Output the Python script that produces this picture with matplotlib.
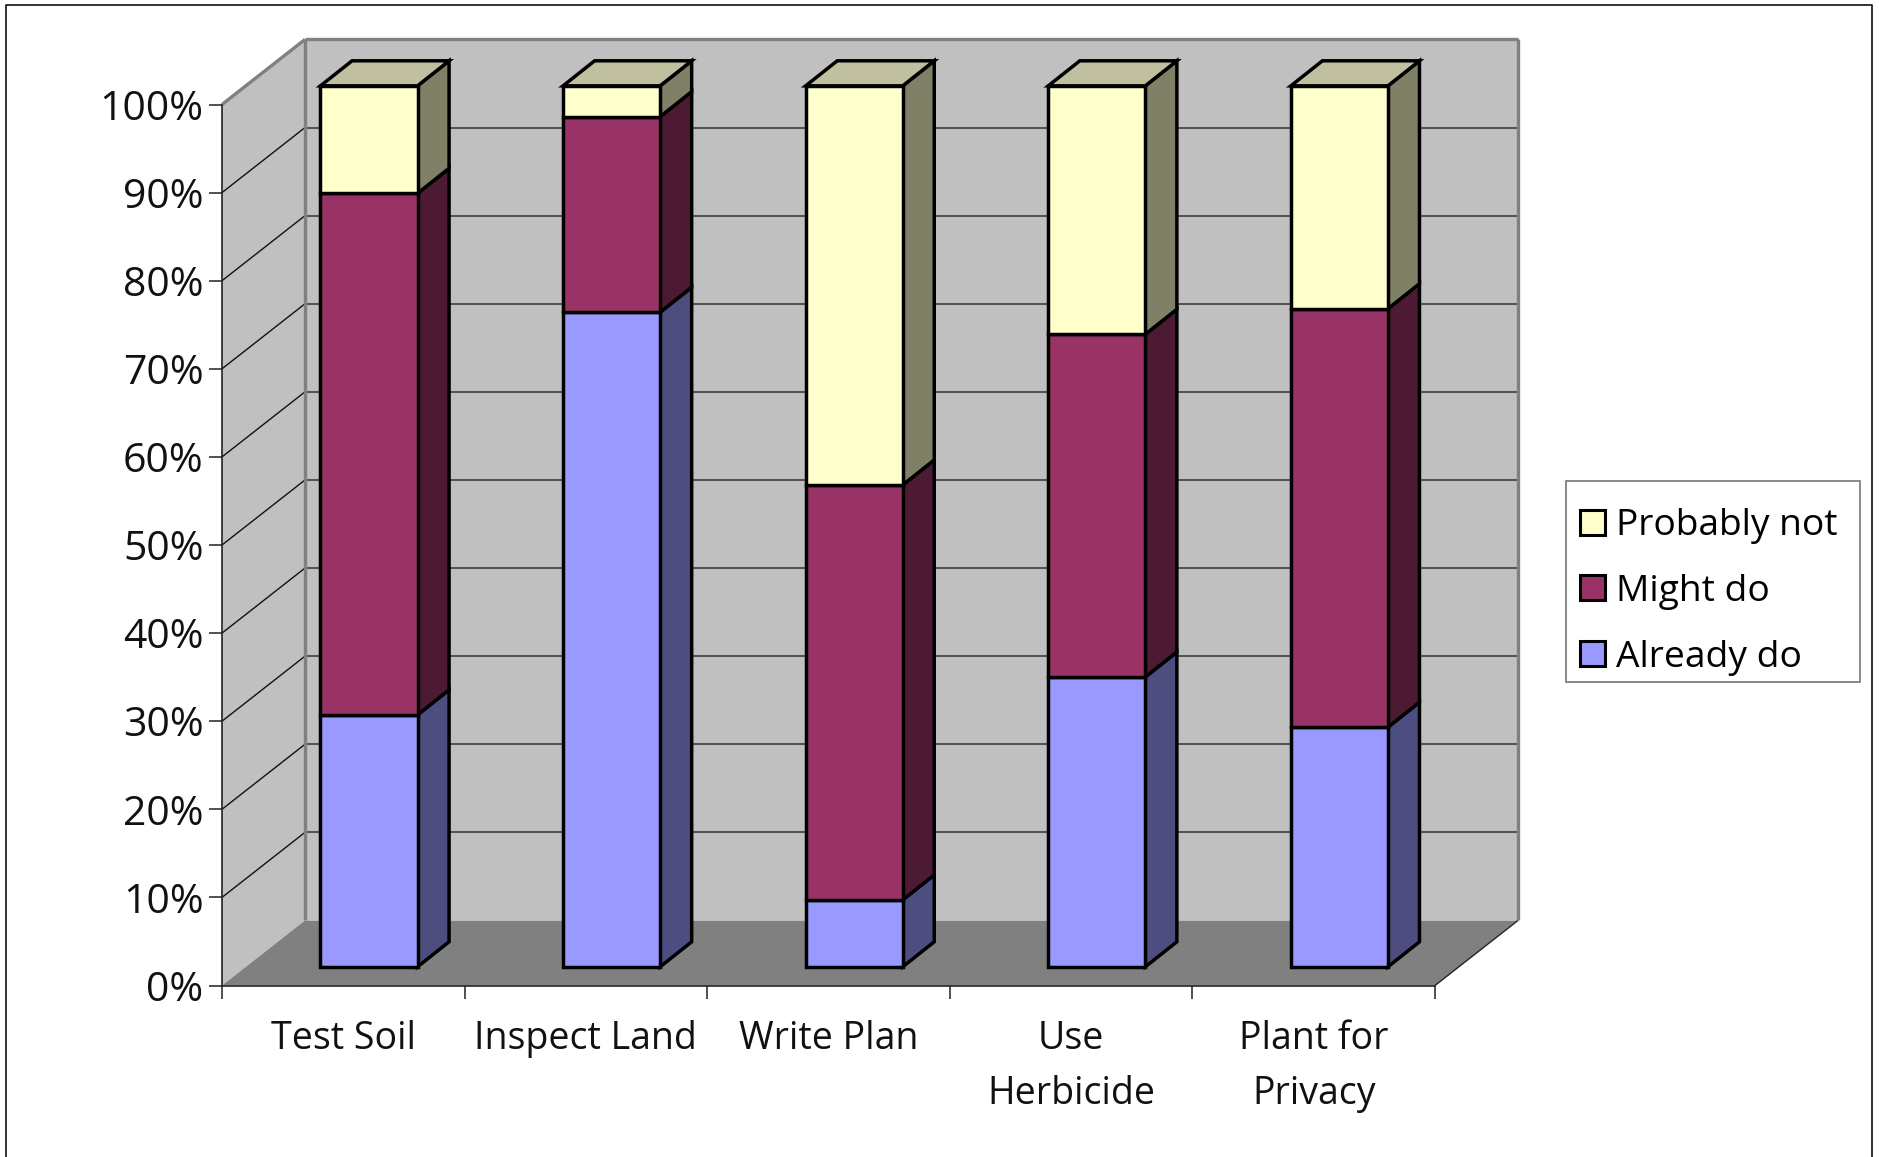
# Stacked 3D-look percent columns, built from polygons on a 2D axes
import matplotlib
matplotlib.use("Agg")
import matplotlib.pyplot as plt
from matplotlib.patches import Polygon, Patch, Rectangle
from matplotlib.lines import Line2D

plt.rcParams['font.family'] = ['Open Sans', 'DejaVu Sans']

categories = ['Test Soil', 'Inspect Land', 'Write Plan', 'Use\nHerbicide', 'Plant for\nPrivacy']
already_do = [28.6, 74.3, 7.6, 32.9, 27.2]
might_do = [59.2, 22.2, 47.1, 38.9, 47.5]
probably_not = [12.2, 3.5, 45.3, 28.2, 25.3]
series_names = ['Already do', 'Might do', 'Probably not']
yticks = list(range(0, 101, 10))

front_colors = ['#9999FF', '#993366', '#FFFFCC']
side_colors = ['#4D4D80', '#4D1A33', '#808066']
top_color = '#C0C0A0'

W, H = 1879, 1157
fig = plt.figure(figsize=(W / 100, H / 100), dpi=100)
ax = fig.add_axes([222 / W, (H - 985.5) / H, 1213 / W, 881 / H])
ax.set_xlim(0, 5)
ax.set_ylim(0, 100)
ax.patch.set_visible(False)

# depth of the box and of the bars, in data units
wall_dx, wall_dy = 0.342, 7.38
bar_dx, bar_dy = 0.13, 2.84
shift_x, shift_y = 0.106, 2.12
bar_width = 0.40


def poly(points, face, edge='none', lw=0, z=1):
    ax.add_patch(Polygon(points, closed=True, facecolor=face, edgecolor=edge,
                         linewidth=lw, zorder=z, clip_on=False, joinstyle='miter'))


def seg(xs, ys, color, lw, z=2):
    ax.add_line(Line2D(xs, ys, color=color, linewidth=lw, zorder=z, clip_on=False,
                       solid_capstyle='butt'))


# back wall, side wall, floor
poly([(wall_dx, wall_dy), (5 + wall_dx, wall_dy), (5 + wall_dx, 100 + wall_dy), (wall_dx, 100 + wall_dy)], '#C0C0C0', z=1)
poly([(0, 0), (wall_dx, wall_dy), (wall_dx, 100 + wall_dy), (0, 100)], '#C0C0C0', z=1)
poly([(0, 0), (5, 0), (5 + wall_dx, wall_dy), (wall_dx, wall_dy)], '#808080', z=1.5)

# gridlines
for t in yticks[1:-1]:
    seg([wall_dx, 5 + wall_dx], [t + wall_dy, t + wall_dy], '#333333', 1.1)
    seg([0, wall_dx], [t, t + wall_dy], '#111111', 1.0)

# wall edges
seg([wall_dx, wall_dx], [wall_dy, 100 + wall_dy], '#808080', 2.4, z=2.5)
seg([wall_dx, 5 + wall_dx], [100 + wall_dy, 100 + wall_dy], '#808080', 2.4, z=2.5)
seg([5 + wall_dx, 5 + wall_dx], [wall_dy, 100 + wall_dy], '#808080', 2.4, z=2.5)
seg([0, wall_dx], [100, 100 + wall_dy], '#808080', 2.4, z=2.5)
seg([5, 5 + wall_dx], [0, wall_dy], '#222222', 1.0, z=2.5)

# stacked columns
for i in range(len(categories)):
    x0 = i + 0.5 + shift_x - bar_width / 2
    x1 = x0 + bar_width
    bottom = 0
    for j, vals in enumerate([already_do, might_do, probably_not]):
        y0 = bottom + shift_y
        y1 = y0 + vals[i]
        poly([(x1, y0), (x1 + bar_dx, y0 + bar_dy), (x1 + bar_dx, y1 + bar_dy), (x1, y1)],
             side_colors[j], 'black', 2.5, z=3)
        poly([(x0, y0), (x1, y0), (x1, y1), (x0, y1)], front_colors[j], 'black', 2.5, z=4)
        bottom += vals[i]
    y_top = bottom + shift_y
    poly([(x0, y_top), (x1, y_top), (x1 + bar_dx, y_top + bar_dy), (x0 + bar_dx, y_top + bar_dy)],
         top_color, 'black', 2.5, z=4)

# axes
for s in ['top', 'right']:
    ax.spines[s].set_visible(False)
for s in ['left', 'bottom']:
    ax.spines[s].set_color('#222222')
    ax.spines[s].set_linewidth(1.2)
    ax.spines[s].set_zorder(2.6)
ax.set_yticks(yticks)
ax.set_yticklabels([f'{t}%' for t in yticks])
ax.set_xticks(range(6))
ax.set_xticklabels([])
ax.tick_params(axis='both', length=9.4, width=1.1, color='#222222')
ax.tick_params(axis='y', labelsize=29.5, pad=4, labelcolor='#111111')
for i, name in enumerate(categories):
    ax.annotate(name, (i + 0.5, 0), xytext=(0, -24.5), textcoords='offset points',
                ha='center', va='top', fontsize=27, linespacing=1.6, color='#111111',
                annotation_clip=False)

# legend box drawn on its own so the rows can sit freely inside it
fig.add_artist(Rectangle((1566 / W, (H - 682) / H), 294 / W, 201 / H, transform=fig.transFigure,
                         facecolor='white', edgecolor='#808080', linewidth=1.3))
handles = [Patch(facecolor=front_colors[j], edgecolor='black', linewidth=2.2, label=series_names[j])
           for j in [2, 1, 0]]
leg = fig.legend(handles=handles, loc='lower left',
                 bbox_to_anchor=(1566 / W, (H - 690) / H, 294 / W, 201 / H), mode='expand',
                 fontsize=26.7, frameon=False,
                 handlelength=0.65, handleheight=0.65, handletextpad=0.31,
                 labelspacing=0.8, borderpad=0.39, borderaxespad=0)

# outer border, open at the bottom
fig.add_artist(Line2D([6 / W, 6 / W, 1872 / W, 1872 / W], [0, (H - 5) / H, (H - 5) / H, 0],
                      color='#222222', linewidth=1.3, transform=fig.transFigure))

fig.savefig('out.png', dpi=100, facecolor='white')
